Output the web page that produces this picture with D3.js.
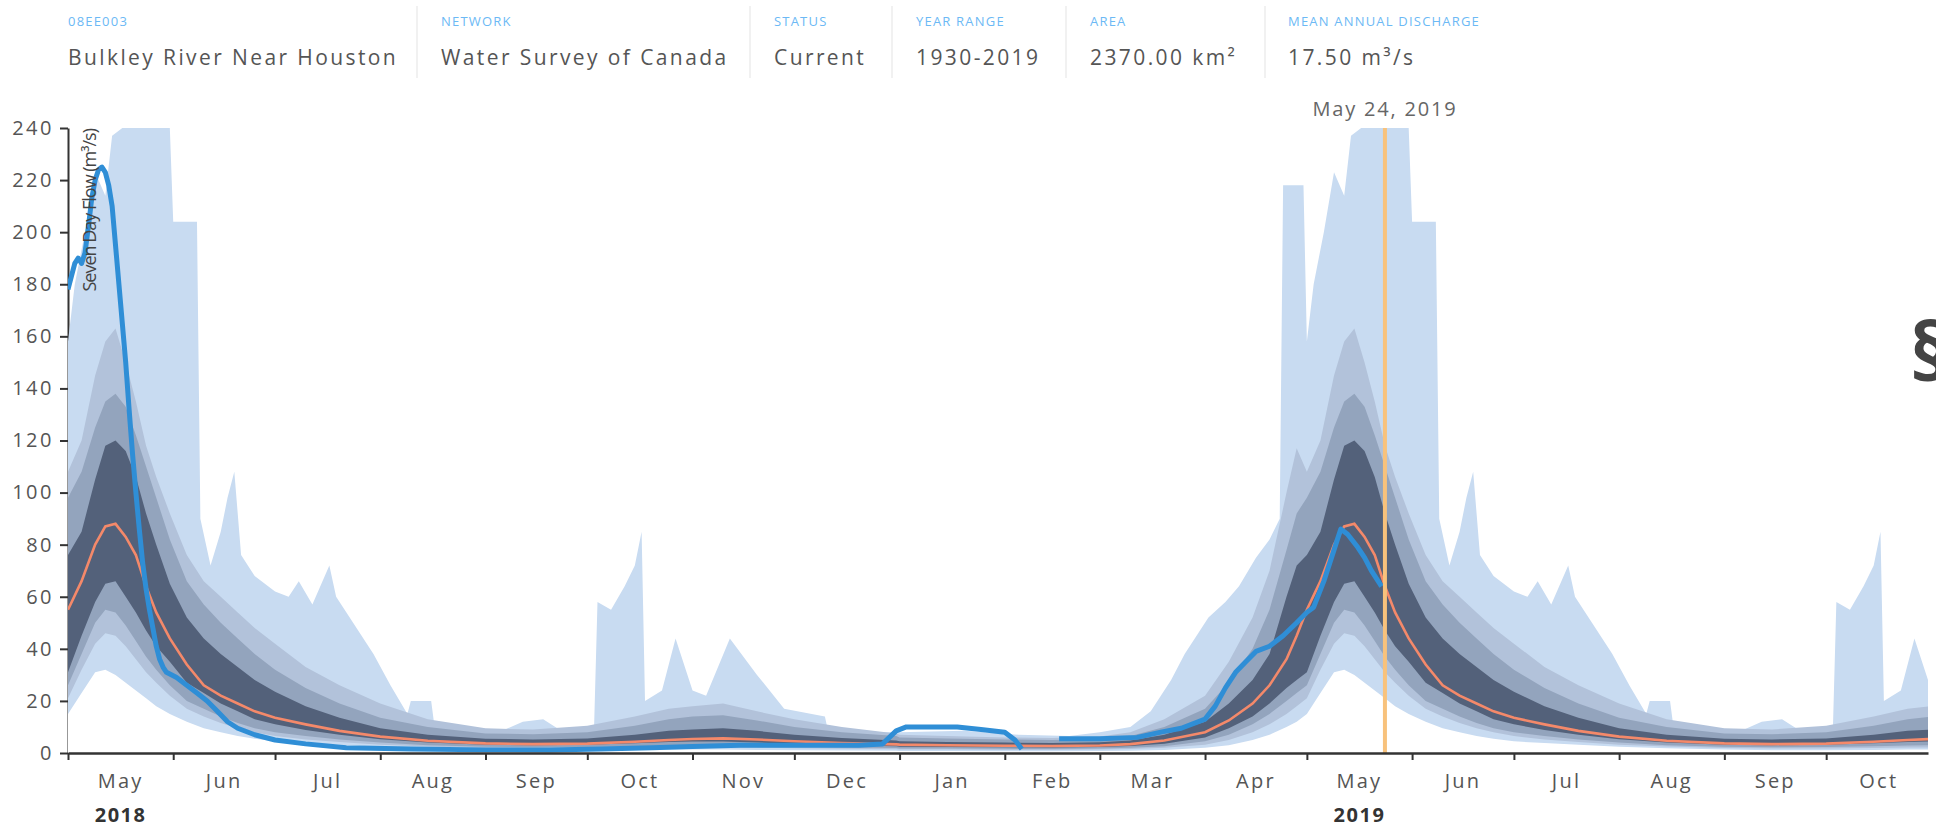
<!DOCTYPE html>
<html lang="en">
<head>
  <meta charset="UTF-8">
  <title>Bulkley River Near Houston</title>
  <style>
    body { margin: 0; background: #fff; }
    svg text { font-family: "Open Sans", sans-serif; }
  </style>
</head>
<body>
  <svg id="chart" width="1936" height="829"></svg>

  <script src="https://cdn.jsdelivr.net/npm/d3@7/dist/d3.min.js"></script>
  <script>
    // station header
    var infoLabels = ['08EE003', 'NETWORK', 'STATUS', 'YEAR RANGE', 'AREA', 'MEAN ANNUAL DISCHARGE'];
    var infoValues = ['Bulkley River Near Houston', 'Water Survey of Canada', 'Current', '1930-2019', '2370.00 km²', '17.50 m³/s'];

    // historical seven day flow by day of year (m3/s)
    var climDays = ['01-01', '01-15', '02-01', '02-15', '03-01', '03-10', '03-20', '04-01', '04-08', '04-15', '04-20', '04-25', '04-28',
      '05-01', '05-05', '05-09', '05-12', '05-15', '05-18', '05-21', '05-24', '05-27', '05-31', '06-05', '06-10', '06-15', '06-20',
      '06-25', '07-01', '07-10', '07-20', '08-01', '08-15', '09-01', '09-15', '10-01', '10-15', '10-25', '11-01', '11-10', '11-20',
      '12-01', '12-15', '12-31'];
    var flowMin = [0.8, 0.8, 0.7, 0.7, 0.8, 0.9, 1.2, 2, 3, 5, 7, 10, 12,
      15, 23, 31, 32, 30, 27, 24, 21, 18, 15, 12, 9.5, 8, 6.5,
      5.5, 4.5, 3.8, 3.2, 2.4, 1.8, 1.3, 1.1, 1.1, 1.2, 1.3, 1.3, 1.3, 1.2,
      1.1, 1, 0.9];
    var flowP5 = [1.3, 1.3, 1.2, 1.2, 1.3, 1.5, 2, 3.2, 5, 8, 11, 15, 18,
      21, 32, 42, 46, 45, 41, 36, 31, 27, 22, 17, 14, 11.5, 9.5,
      8, 6.5, 5.2, 4.2, 3.2, 2.5, 1.9, 1.7, 1.7, 1.9, 2.1, 2.1, 2.1, 2,
      1.8, 1.6, 1.4];
    var flowP10 = [1.7, 1.7, 1.6, 1.5, 1.7, 2, 2.6, 4.5, 7, 11, 15, 20, 23,
      26, 38, 50, 55, 54, 49, 43, 37, 32, 26, 20, 17, 14, 11.5,
      9.5, 8, 6.5, 5.2, 4, 3, 2.4, 2.2, 2.3, 2.6, 2.9, 3, 3, 2.8,
      2.5, 2.1, 1.9];
    var flowP25 = [2.4, 2.3, 2.2, 2.1, 2.3, 2.7, 3.6, 6, 9.5, 14, 19, 25, 28,
      31, 45, 58, 65, 66, 60, 54, 47, 41, 35, 27, 23, 19, 16,
      13, 11, 8.8, 7, 5.3, 4, 3.2, 3, 3.2, 3.7, 4.2, 4.4, 4.4, 4,
      3.5, 3, 2.6];
    var flowMedian = [3.2, 3, 2.8, 2.7, 2.9, 3.4, 4.8, 8, 12.5, 19, 26, 36, 45,
      55, 66, 80, 87, 88, 83, 76, 64, 54, 44, 34, 26, 22, 19,
      16, 13.5, 11, 8.5, 6.3, 4.7, 3.7, 3.4, 3.6, 4.3, 5, 5.4, 5.6, 5.2,
      4.5, 3.8, 3.3];
    var flowP75 = [4.5, 4.2, 4, 3.8, 4.1, 4.8, 7, 12, 19, 28, 38, 60, 72,
      76, 85, 105, 118, 120, 116, 106, 92, 80, 65, 52, 44, 38, 33,
      28, 23.5, 18, 13.5, 9.5, 7, 5.5, 5.2, 5.6, 7, 8.5, 9, 9.5, 8.5,
      7, 5.8, 4.8];
    var flowP90 = [6, 5.6, 5.2, 5, 5.4, 6.5, 10, 17, 27, 40, 55, 78, 92,
      98, 108, 125, 135, 138, 133, 122, 110, 98, 82, 66, 57, 50, 44,
      38, 32, 25, 19, 13.5, 10, 7.5, 7.2, 8, 10.5, 13, 14, 14.5, 12.5,
      10, 8, 6.5];
    var flowP95 = [7, 6.5, 6, 5.8, 6.3, 8, 13, 22, 35, 52, 70, 100, 117,
      108, 120, 145, 158, 163, 150, 135, 118, 106, 92, 76, 66, 60, 54,
      48, 42, 33, 26, 19, 13, 9.5, 9, 10.5, 14, 17, 18, 19, 16,
      13, 10, 7.5];

    var maxDays = ['01-01', '01-20', '02-05', '02-20', '03-01', '03-10', '03-16', '03-22', '03-26', '04-02', '04-07', '04-11', '04-16',
      '04-20', '04-23', '04-24', '04-30', '05-01', '05-03', '05-06', '05-09', '05-12', '05-14', '05-17', '05-31', '06-01', '06-08',
      '06-09', '06-12', '06-15', '06-17', '06-19', '06-21', '06-25', '07-01', '07-05', '07-08', '07-12', '07-17', '07-19', '07-24',
      '07-30', '08-04', '08-09', '08-10', '08-16', '08-17', '08-25', '09-05', '09-12', '09-18', '09-24', '10-03', '10-04', '10-08',
      '10-12', '10-15', '10-17', '10-18', '10-23', '10-27', '11-01', '11-05', '11-12', '11-20', '11-28', '12-10', '12-11', '12-31'];
    var flowMax = [8, 8.5, 7, 6.5, 8, 10, 16, 28, 38, 52, 58, 64, 75,
      82, 90, 218, 218, 158, 180, 200, 223, 214, 237, 240, 240, 204, 204,
      90, 72, 85, 98, 108, 76, 68, 62, 60, 66, 57, 72, 60, 50,
      38, 26, 15, 20, 20, 10, 7, 8, 12, 13, 8, 10, 58, 55,
      64, 72, 85, 20, 24, 44, 24, 22, 44, 30, 17, 14, 8, 8];

    // 2018-2019 seven day flow (null = no data)
    var currentDays = ['2018-05-01', '2018-05-02', '2018-05-03', '2018-05-04', '2018-05-05', '2018-05-06', '2018-05-07', '2018-05-08',
      '2018-05-09', '2018-05-10', '2018-05-11', '2018-05-12', '2018-05-13', '2018-05-14', '2018-05-15', '2018-05-16', '2018-05-17',
      '2018-05-18', '2018-05-19', '2018-05-20', '2018-05-21', '2018-05-22', '2018-05-23', '2018-05-24', '2018-05-25', '2018-05-26',
      '2018-05-27', '2018-05-28', '2018-05-29', '2018-05-30', '2018-06-02', '2018-06-05', '2018-06-08', '2018-06-11', '2018-06-14',
      '2018-06-17', '2018-06-20', '2018-06-25', '2018-07-01', '2018-07-10', '2018-07-22', '2018-08-10', '2018-09-01', '2018-09-20',
      '2018-10-05', '2018-10-20', '2018-11-01', '2018-11-15', '2018-12-01', '2018-12-20', '2018-12-27', '2018-12-29', '2018-12-31',
      '2019-01-03', '2019-01-18', '2019-01-25', '2019-02-01', '2019-02-04', '2019-02-06', '2019-02-07', '2019-02-16', '2019-02-17',
      '2019-03-01', '2019-03-12', '2019-03-19', '2019-03-25', '2019-04-01', '2019-04-04', '2019-04-07', '2019-04-10', '2019-04-13',
      '2019-04-16', '2019-04-20', '2019-04-24', '2019-04-28', '2019-05-01', '2019-05-03', '2019-05-06', '2019-05-09', '2019-05-11',
      '2019-05-13', '2019-05-16', '2019-05-18', '2019-05-20', '2019-05-23'];
    var currentFlow = [178, 183, 188, 190, 188, 192, 202, 213,
      220, 224, 225, 223, 218, 210, 195, 180, 165,
      150, 132, 115, 100, 86, 73, 63, 55, 48,
      41, 36, 33, 31, 29, 26, 23, 20, 16,
      12, 9.5, 7, 5, 3.5, 2, 1.5, 1.2, 1.2,
      1.5, 2, 2.5, 3, 3, 3, 3.5, 6, 8.5,
      10, 10, 9, 8, 5, 1.5, null, null, 5.5,
      5.5, 6, 8, 9.5, 13, 18, 25, 31, 35,
      39, 41, 45, 50, 54, 56, 66, 78, 86,
      84, 79, 75, 70, 64];

    var yTicks = [0, 20, 40, 60, 80, 100, 120, 140, 160, 180, 200, 220, 240];
    var yearLabelMonths = ['2018-05-01', '2019-05-01'];
    var markerDay = '2019-05-24';

    // layout
    var headerX = [68, 441, 774, 916, 1090, 1288];
    var sepX = [417, 750, 892, 1066, 1265];
    var plotL = 68, plotR = 1928, plotT = 128, plotB = 753;

    var parse = d3.timeParse('%Y-%m-%d');
    var svg = d3.select('#chart');

    /******************** header ********************/
    var head = svg.append('g');
    head.selectAll('line.sep').data(sepX).enter().append('line')
      .attr('x1', d => d).attr('x2', d => d).attr('y1', 6).attr('y2', 78)
      .attr('stroke', '#ececec').attr('stroke-width', 1.5);
    head.selectAll('text.lab').data(infoLabels).enter().append('text')
      .attr('x', (d, i) => headerX[i]).attr('y', 26)
      .attr('font-size', 13).attr('letter-spacing', 1.2)
      .attr('fill', '#6cb9f5').text(d => d);
    head.selectAll('text.val').data(infoValues).enter().append('text')
      .attr('x', (d, i) => headerX[i]).attr('y', 65)
      .attr('font-size', 21).attr('letter-spacing', 2.4)
      .attr('fill', '#555').text(d => d);

    /******************** scales ********************/
    var x = d3.scaleTime()
      .domain([parse('2018-05-01'), parse('2019-10-31')])
      .range([plotL, plotR]);
    var y = d3.scaleLinear().domain([0, 240]).range([plotB, plotT]);

    // repeat the day-of-year climate for each year on the axis
    function climSeries(days, cols) {
      var pts = [];
      var end = d3.timeDay.offset(x.domain()[1], 1);
      [2018, 2019].forEach(function (yr) {
        days.forEach(function (md, i) {
          var dt = parse(yr + '-' + md);
          if (dt >= x.domain()[0] && dt <= end) {
            var row = { date: dt };
            for (var k in cols) row[k] = cols[k][i];
            pts.push(row);
          }
        });
      });
      return pts;
    }

    var clim = climSeries(climDays, {
      min: flowMin, p5: flowP5, p10: flowP10, p25: flowP25,
      p50: flowMedian, p75: flowP75, p90: flowP90, p95: flowP95
    });
    var maxSeries = climSeries(maxDays, { max: flowMax });
    var current = currentDays.map((d, i) => ({ date: parse(d), v: currentFlow[i] }));

    svg.append('clipPath').attr('id', 'plot-clip')
      .append('rect').attr('x', plotL).attr('y', plotT)
      .attr('width', plotR - plotL).attr('height', plotB - plotT);

    /******************** y axis (under bands) ********************/
    var yAxis = svg.append('g').attr('transform', 'translate(' + plotL + ',0)')
      .call(d3.axisLeft(y).tickValues(yTicks).tickSize(8).tickSizeOuter(0).tickPadding(6));
    yAxis.select('.domain').attr('stroke', '#333').attr('stroke-width', 2);
    yAxis.selectAll('.tick line').attr('stroke', '#333').attr('stroke-width', 2);
    yAxis.selectAll('.tick text').attr('font-size', 20).attr('letter-spacing', 2.5)
      .attr('fill', '#555').attr('font-family', '"Open Sans", sans-serif');

    /******************** bands ********************/
    var plot = svg.append('g').attr('clip-path', 'url(#plot-clip)');

    plot.append('path').datum(maxSeries)
      .attr('fill', '#c8dbf1')
      .attr('d', d3.area().x(d => x(d.date)).y0(y(0)).y1(d => y(d.max)));
    plot.append('path').datum(clim)
      .attr('fill', '#ffffff')
      .attr('d', d3.area().x(d => x(d.date)).y0(y(0)).y1(d => y(d.min)));

    var bands = [
      { lo: 'p5', hi: 'p95', color: '#b2c2da' },
      { lo: 'p10', hi: 'p90', color: '#93a4bd' },
      { lo: 'p25', hi: 'p75', color: '#53617a' }
    ];
    plot.selectAll('path.band').data(bands).enter().append('path')
      .attr('class', 'band')
      .attr('fill', d => d.color)
      .attr('d', b => d3.area().x(d => x(d.date)).y0(d => y(d[b.lo])).y1(d => y(d[b.hi]))(clim));

    plot.append('path').datum(clim)
      .attr('fill', 'none').attr('stroke', '#f4896a').attr('stroke-width', 2.6)
      .attr('d', d3.line().x(d => x(d.date)).y(d => y(d.p50)));

    plot.append('path').datum(current)
      .attr('fill', 'none').attr('stroke', '#2f8ed6').attr('stroke-width', 5)
      .attr('stroke-linejoin', 'round')
      .attr('d', d3.line().defined(d => d.v !== null).x(d => x(d.date)).y(d => y(d.v)));

    /******************** current date marker ********************/
    var mx = x(parse(markerDay));
    svg.append('line').attr('x1', mx).attr('x2', mx).attr('y1', y(240)).attr('y2', y(0))
      .attr('stroke', '#f8c27c').attr('stroke-width', 4);
    svg.append('text').attr('x', mx).attr('y', 116).attr('text-anchor', 'middle')
      .attr('font-size', 20).attr('letter-spacing', 1.8).attr('fill', '#666')
      .text(d3.timeFormat('%b %-d, %Y')(parse(markerDay)));

    /******************** x axis ********************/
    var xAxis = svg.append('g').attr('transform', 'translate(0,' + plotB + ')')
      .call(d3.axisBottom(x).ticks(d3.timeMonth).tickSize(7).tickSizeOuter(0).tickFormat(''));
    xAxis.select('.domain').attr('stroke', '#333').attr('stroke-width', 2.5);
    xAxis.selectAll('.tick line').attr('stroke', '#333').attr('stroke-width', 2);

    var months = d3.timeMonth.range(x.domain()[0], d3.timeDay.offset(x.domain()[1], 1));
    svg.append('g').selectAll('text').data(months).enter().append('text')
      .attr('x', d => x(new Date((+d + +d3.timeMonth.offset(d, 1)) / 2)))
      .attr('y', 788).attr('text-anchor', 'middle')
      .attr('font-size', 20).attr('letter-spacing', 2.2).attr('fill', '#555')
      .text(d => d3.timeFormat('%b')(d));
    svg.append('g').selectAll('text').data(yearLabelMonths.map(parse)).enter().append('text')
      .attr('x', d => x(new Date((+d + +d3.timeMonth.offset(d, 1)) / 2)))
      .attr('y', 822).attr('text-anchor', 'middle')
      .attr('font-size', 20).attr('font-weight', 'bold').attr('letter-spacing', 1.5).attr('fill', '#333')
      .text(d => d3.timeFormat('%Y')(d));

    // axis title
    svg.append('text')
      .attr('transform', 'translate(96,' + (plotT + 1) + ') rotate(-90)')
      .attr('text-anchor', 'end')
      .attr('font-size', 18).attr('letter-spacing', -1).attr('fill', '#444')
      .text('Seven Day Flow (m³/s)');

    // mark at the right edge of the page
    svg.append('text').attr('x', 1910).attr('y', 380)
      .attr('font-size', 80).attr('font-weight', 'bold').attr('fill', '#444')
      .text('§');
  </script>
</body>
</html>
